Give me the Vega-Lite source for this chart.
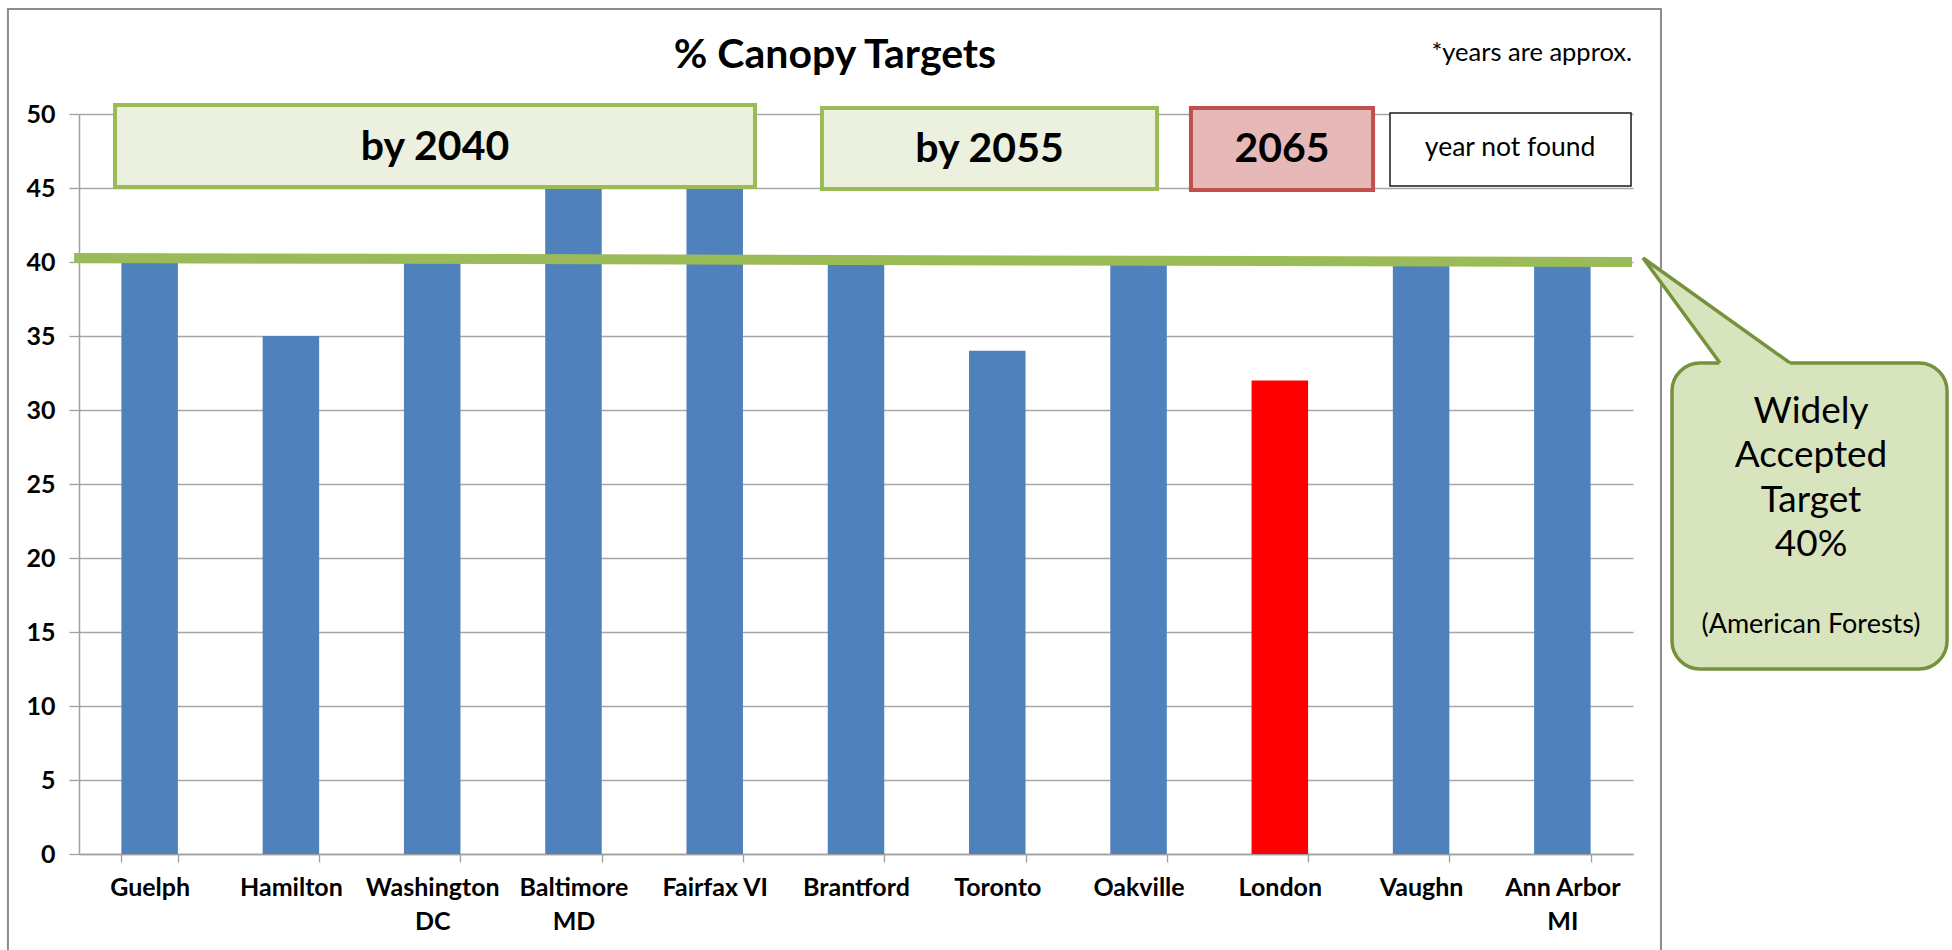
{
  "$schema": "https://vega.github.io/schema/vega-lite/v6.json",
  "width": 1554,
  "height": 740,
  "autosize": "none",
  "padding": {"left": 79, "top": 114, "right": 319, "bottom": 96},
  "background": "#FFFFFF",
  "config": {"view": {"stroke": null}, "font": "Lato", "text": {"font": "Lato", "color": "#000000"}},
  "datasets": {
    "cities": [
      {"city": "Guelph", "target": 40},
      {"city": "Hamilton", "target": 35},
      {"city": "Washington DC", "target": 40},
      {"city": "Baltimore MD", "target": 45},
      {"city": "Fairfax VI", "target": 45},
      {"city": "Brantford", "target": 40},
      {"city": "Toronto", "target": 34},
      {"city": "Oakville", "target": 40},
      {"city": "London", "target": 32},
      {"city": "Vaughn", "target": 40},
      {"city": "Ann Arbor MI", "target": 40}
    ],
    "frame": [{"u": -0.503, "u2": 11.198, "v": -8, "v2": 57.09}],
    "targetLine": [{"u": -0.035, "v": 40.27}, {"u": 10.993, "v": 40.0}],
    "boxes": [
      {"kind": "by 2040", "u": 0.255, "u2": 4.785, "v": 45.07, "v2": 50.61, "cu": 2.52, "cv": 47.72},
      {"kind": "by 2055", "u": 5.259, "u2": 7.631, "v": 44.93, "v2": 50.41, "cu": 6.445, "cv": 47.55},
      {"kind": "2065", "u": 7.871, "u2": 9.16, "v": 44.86, "v2": 50.41, "cu": 8.516, "cv": 47.55},
      {"kind": "year not found", "u": 9.28, "u2": 10.986, "v": 45.14, "v2": 50.07, "cu": 10.13, "cv": 47.7}
    ],
    "callout": [{"u": 11.276, "u2": 13.223, "v": 12.5, "v2": 33.18}],
    "pointerFill": [
      {"u": 11.071, "v": 40.27, "v2": 40.27},
      {"u": 11.616, "v": 36.555, "v2": 33.0},
      {"u": 12.111, "v": 33.18, "v2": 33.0}
    ],
    "pointerEdge": [
      {"step": 0, "u": 11.616, "v": 33.18},
      {"step": 1, "u": 11.071, "v": 40.27},
      {"step": 2, "u": 12.111, "v": 33.18}
    ],
    "texts": [
      {"role": "title", "text": "% Canopy Targets", "u": 5.351, "v": 53.95},
      {"role": "note", "text": "*years are approx.", "u": 10.993, "v": 54.15},
      {"role": "callout", "text": "Widely", "u": 12.26, "v": 29.88},
      {"role": "callout", "text": "Accepted", "u": 12.26, "v": 26.88},
      {"role": "callout", "text": "Target", "u": 12.26, "v": 23.87},
      {"role": "callout", "text": "40%", "u": 12.26, "v": 20.86},
      {"role": "source", "text": "(American Forests)", "u": 12.26, "v": 15.45}
    ]
  },
  "layer": [
    {
      "data": {"name": "cities"},
      "mark": {"type": "bar"},
      "encoding": {
        "x": {
          "field": "city", "type": "nominal", "sort": null,
          "scale": {"paddingInner": 0.6, "paddingOuter": 0.3},
          "axis": {
            "title": null, "labelAngle": 0, "labelFontSize": 25, "labelFontWeight": "bold",
            "labelColor": "#000000", "labelFont": "Lato", "labelPadding": 13, "labelLineHeight": 34,
            "labelExpr": "datum.label == 'Washington DC' ? ['Washington', 'DC'] : datum.label == 'Baltimore MD' ? ['Baltimore', 'MD'] : datum.label == 'Ann Arbor MI' ? ['Ann Arbor', 'MI'] : datum.label",
            "tickBand": "extent", "tickSize": 8, "tickColor": "#A0A0A0", "tickWidth": 1.3,
            "domainColor": "#A0A0A0", "domainWidth": 1.5, "grid": false
          }
        },
        "y": {
          "field": "target", "type": "quantitative",
          "scale": {"domain": [0, 50], "nice": false},
          "axis": {
            "title": null, "values": [0, 5, 10, 15, 20, 25, 30, 35, 40, 45, 50],
            "labelFontSize": 25, "labelFontWeight": "bold", "labelColor": "#000000", "labelFont": "Lato",
            "labelPadding": 14, "tickSize": 10, "tickColor": "#A0A0A0", "tickWidth": 1.3,
            "domainColor": "#A0A0A0", "domainWidth": 1.5,
            "grid": true, "gridColor": "#A6A6A6", "gridWidth": 1.3
          }
        },
        "color": {"condition": {"test": "datum.city === 'London'", "value": "#FF0000"}, "value": "#4F81BD"}
      }
    },
    {
      "layer": [
        {
          "data": {"name": "frame"},
          "mark": {"type": "rect", "fill": "#FFFFFF", "fillOpacity": 0, "stroke": "#8C8C8C", "strokeWidth": 2},
          "encoding": {
            "x": {"field": "u", "type": "quantitative", "scale": {"domain": [0, 11], "nice": false, "zero": false}, "axis": null},
            "x2": {"field": "u2"},
            "y": {"field": "v", "type": "quantitative", "scale": {"domain": [0, 50], "nice": false, "zero": false}, "axis": null},
            "y2": {"field": "v2"}
          }
        },
        {
          "data": {"name": "targetLine"},
          "mark": {"type": "line", "stroke": "#9BBB59", "strokeWidth": 10, "strokeCap": "butt"},
          "encoding": {
            "x": {"field": "u", "type": "quantitative", "scale": {"domain": [0, 11], "nice": false, "zero": false}, "axis": null},
            "y": {"field": "v", "type": "quantitative", "scale": {"domain": [0, 50], "nice": false, "zero": false}, "axis": null}
          }
        },
        {
          "data": {"name": "boxes"},
          "mark": {"type": "rect"},
          "encoding": {
            "x": {"field": "u", "type": "quantitative", "scale": {"domain": [0, 11], "nice": false, "zero": false}, "axis": null},
            "x2": {"field": "u2"},
            "y": {"field": "v", "type": "quantitative", "scale": {"domain": [0, 50], "nice": false, "zero": false}, "axis": null},
            "y2": {"field": "v2"},
            "fill": {"field": "kind", "type": "nominal", "legend": null,
              "scale": {"domain": ["by 2040", "by 2055", "2065", "year not found"], "range": ["#EBF1DE", "#EBF1DE", "#E6B9B8", "#FFFFFF"]}},
            "stroke": {"field": "kind", "type": "nominal", "legend": null,
              "scale": {"domain": ["by 2040", "by 2055", "2065", "year not found"], "range": ["#9BBB59", "#9BBB59", "#C0504D", "#1A1A1A"]}},
            "strokeWidth": {"condition": {"test": "datum.kind === 'year not found'", "value": 1.5}, "value": 4}
          }
        },
        {
          "data": {"name": "boxes"},
          "transform": [{"filter": "datum.kind !== 'year not found'"}],
          "mark": {"type": "text", "fontSize": 41, "fontWeight": "bold", "align": "center", "baseline": "middle"},
          "encoding": {
            "x": {"field": "cu", "type": "quantitative", "scale": {"domain": [0, 11], "nice": false, "zero": false}, "axis": null},
            "y": {"field": "cv", "type": "quantitative", "scale": {"domain": [0, 50], "nice": false, "zero": false}, "axis": null},
            "text": {"field": "kind"}
          }
        },
        {
          "data": {"name": "boxes"},
          "transform": [{"filter": "datum.kind === 'year not found'"}],
          "mark": {"type": "text", "fontSize": 26.5, "align": "center", "baseline": "middle"},
          "encoding": {
            "x": {"field": "cu", "type": "quantitative", "scale": {"domain": [0, 11], "nice": false, "zero": false}, "axis": null},
            "y": {"field": "cv", "type": "quantitative", "scale": {"domain": [0, 50], "nice": false, "zero": false}, "axis": null},
            "text": {"field": "kind"}
          }
        },
        {
          "data": {"name": "callout"},
          "mark": {"type": "rect", "fill": "#D7E4BD", "stroke": "#76923C", "strokeWidth": 3.5, "cornerRadius": 28},
          "encoding": {
            "x": {"field": "u", "type": "quantitative", "scale": {"domain": [0, 11], "nice": false, "zero": false}, "axis": null},
            "x2": {"field": "u2"},
            "y": {"field": "v", "type": "quantitative", "scale": {"domain": [0, 50], "nice": false, "zero": false}, "axis": null},
            "y2": {"field": "v2"}
          }
        },
        {
          "data": {"name": "pointerFill"},
          "mark": {"type": "area", "fill": "#D7E4BD", "interpolate": "linear"},
          "encoding": {
            "x": {"field": "u", "type": "quantitative", "scale": {"domain": [0, 11], "nice": false, "zero": false}, "axis": null},
            "y": {"field": "v", "type": "quantitative", "scale": {"domain": [0, 50], "nice": false, "zero": false}, "axis": null},
            "y2": {"field": "v2"}
          }
        },
        {
          "data": {"name": "pointerEdge"},
          "mark": {"type": "line", "stroke": "#76923C", "strokeWidth": 3.5, "strokeJoin": "miter"},
          "encoding": {
            "x": {"field": "u", "type": "quantitative", "scale": {"domain": [0, 11], "nice": false, "zero": false}, "axis": null},
            "y": {"field": "v", "type": "quantitative", "scale": {"domain": [0, 50], "nice": false, "zero": false}, "axis": null},
            "order": {"field": "step", "type": "quantitative"}
          }
        },
        {
          "data": {"name": "texts"},
          "transform": [{"filter": "datum.role === 'callout'"}],
          "mark": {"type": "text", "fontSize": 37, "align": "center", "baseline": "middle"},
          "encoding": {
            "x": {"field": "u", "type": "quantitative", "scale": {"domain": [0, 11], "nice": false, "zero": false}, "axis": null},
            "y": {"field": "v", "type": "quantitative", "scale": {"domain": [0, 50], "nice": false, "zero": false}, "axis": null},
            "text": {"field": "text"}
          }
        },
        {
          "data": {"name": "texts"},
          "transform": [{"filter": "datum.role === 'source'"}],
          "mark": {"type": "text", "fontSize": 27, "align": "center", "baseline": "middle"},
          "encoding": {
            "x": {"field": "u", "type": "quantitative", "scale": {"domain": [0, 11], "nice": false, "zero": false}, "axis": null},
            "y": {"field": "v", "type": "quantitative", "scale": {"domain": [0, 50], "nice": false, "zero": false}, "axis": null},
            "text": {"field": "text"}
          }
        },
        {
          "data": {"name": "texts"},
          "transform": [{"filter": "datum.role === 'title'"}],
          "mark": {"type": "text", "fontSize": 41, "fontWeight": "bold", "align": "center", "baseline": "middle"},
          "encoding": {
            "x": {"field": "u", "type": "quantitative", "scale": {"domain": [0, 11], "nice": false, "zero": false}, "axis": null},
            "y": {"field": "v", "type": "quantitative", "scale": {"domain": [0, 50], "nice": false, "zero": false}, "axis": null},
            "text": {"field": "text"}
          }
        },
        {
          "data": {"name": "texts"},
          "transform": [{"filter": "datum.role === 'note'"}],
          "mark": {"type": "text", "fontSize": 25.5, "align": "right", "baseline": "middle"},
          "encoding": {
            "x": {"field": "u", "type": "quantitative", "scale": {"domain": [0, 11], "nice": false, "zero": false}, "axis": null},
            "y": {"field": "v", "type": "quantitative", "scale": {"domain": [0, 50], "nice": false, "zero": false}, "axis": null},
            "text": {"field": "text"}
          }
        }
      ]
    }
  ],
  "resolve": {"scale": {"x": "independent", "y": "independent"}}
}
